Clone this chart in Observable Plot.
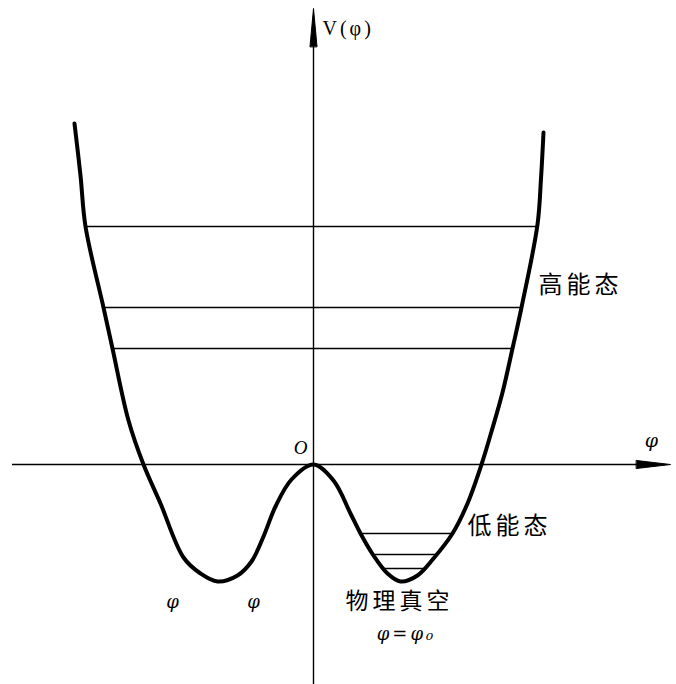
<!DOCTYPE html>
<html>
<head>
<meta charset="utf-8">
<script src="https://cdn.jsdelivr.net/npm/d3@7"></script>
<script src="https://cdn.jsdelivr.net/npm/@observablehq/plot@0.6"></script>
<style>
  html, body { margin: 0; padding: 0; background: #fff; }
  svg { display: block; }
</style>
</head>
<body>
<div id="chart"></div>
<script>
// Potential curve V(φ) (φ right, V up)
const phiValues = [-2.39, -2.33, -2.28, -2.10, -2.01, -1.85, -1.70, -1.53, -1.30, -1.13, -0.96, -0.76, -0.62, -0.50, -0.38, -0.22, 0.00, 0.20, 0.37, 0.47, 0.60, 0.74, 0.87, 1.04, 1.20, 1.39, 1.54, 1.68, 1.78, 1.89, 1.99, 2.08, 2.24, 2.275, 2.30];
const vValues   = [ 3.41,  2.89,  2.38,  1.57,  1.16,  0.44,  0.00, -0.39, -0.93, -1.09, -1.17, -1.11, -0.97, -0.72, -0.42, -0.15, 0.00, -0.16, -0.49, -0.69, -0.91, -1.09, -1.17, -1.11, -0.94, -0.69, -0.39, 0.00, 0.33, 0.72, 1.16, 1.57, 2.40, 2.86, 3.32];

// Energy levels: height and left/right ends
const levelV     = [2.38, 1.57, 1.16, -0.69, -0.90, -1.04];
const levelLeft  = [-2.28, -2.10, -2.01, 0.47, 0.59, 0.70];
const levelRight = [2.24, 2.08, 1.99, 1.39, 1.24, 1.12];

// Axis extents
const xAxisExtent = [-3.01, 3.40];
const yAxisExtent = [-2.20, 4.45];

// Labels
const plainLabels = [
  {text: "V(φ)", phi: 0.09, V: 4.36}
];
const phiLabels = [
  {text: "φ", phi: 3.38, V: 0.24, size: 19},
  {text: "φ", phi: -1.41, V: -1.38, size: 18},
  {text: "φ", phi: -0.60, V: -1.38, size: 18},
  {text: "φ=φ₀", phi: 0.93, V: -1.70, size: 18}
];
const originLabel = [
  {text: "O", phi: -0.13, V: 0.17}
];
const cjkMiddle = [
  {text: "物理真空", phi: 0.86, V: -1.37}
];
const cjkStart = [
  {text: "低能态", phi: 1.54, V: -0.62},
  {text: "高能态", phi: 2.25, V: 1.79}
];

const curve = phiValues.map((p, i) => ({phi: p, V: vValues[i]}));
const levels = levelV.map((v, i) => ({V: v, x1: levelLeft[i], x2: levelRight[i]}));

const triangle = {
  draw(context, l, r) {
    context.moveTo(-r, 0);
    context.lineTo(0, -l);
    context.lineTo(r, 0);
    context.closePath();
  }
};

const chart = Plot.plot({
  width: 676,
  height: 684,
  margin: 0,
  x: {domain: [-3.13, 3.63], axis: null},
  y: {domain: [-2.20, 4.64], axis: null},
  style: {background: "#fff"},
  marks: [
    // axes
    Plot.ruleY([0], {x1: xAxisExtent[0], x2: xAxisExtent[1], stroke: "black", strokeWidth: 1.4}),
    Plot.ruleX([0], {y1: yAxisExtent[0], y2: yAxisExtent[1], stroke: "black", strokeWidth: 1.4}),
    Plot.vector([{phi: 3.57, V: 0}], {x: "phi", y: "V", length: 34, r: 4, rotate: 90, anchor: "end", shape: triangle, fill: "black", stroke: "black", strokeWidth: 1}),
    Plot.vector([{phi: 0, V: 4.56}], {x: "phi", y: "V", length: 38, r: 3.5, rotate: 0, anchor: "end", shape: triangle, fill: "black", stroke: "black", strokeWidth: 1}),
    // energy levels
    Plot.ruleY(levels, {y: "V", x1: "x1", x2: "x2", stroke: "black", strokeWidth: 1.5}),
    // potential
    Plot.line(curve, {x: "phi", y: "V", curve: "catmull-rom", stroke: "black", strokeWidth: 4, strokeLinejoin: "round", strokeLinecap: "round"}),
    // labels
    Plot.text(plainLabels, {x: "phi", y: "V", text: "text", textAnchor: "start", fontSize: 20, fontFamily: "Liberation Serif", fill: "black"}),
    Plot.text(phiLabels, {x: "phi", y: "V", text: "text", fontSize: d => d.size, fontStyle: "italic", fontFamily: "DejaVu Serif", fill: "black"}),
    Plot.text(originLabel, {x: "phi", y: "V", text: "text", fontSize: 19, fontStyle: "italic", fontFamily: "Liberation Serif", fill: "black"}),
    Plot.text(cjkMiddle, {x: "phi", y: "V", text: "text", textAnchor: "middle", fontSize: 23, fontFamily: "Noto Sans CJK SC", fill: "black"}),
    Plot.text(cjkStart, {x: "phi", y: "V", text: "text", textAnchor: "start", fontSize: 24, fontFamily: "Noto Sans CJK SC", fill: "black"})
  ]
});

d3.select(chart).selectAll("text")
  .filter(function() { return /[\u4e00-\u9fff]/.test(this.textContent); })
  .style("letter-spacing", "4px");
d3.select(chart).selectAll("text")
  .filter(function() { return this.textContent === "V(φ)" || this.textContent === "φ=φ₀"; })
  .style("letter-spacing", "3px");
document.getElementById("chart").append(chart);
</script>
</body>
</html>
